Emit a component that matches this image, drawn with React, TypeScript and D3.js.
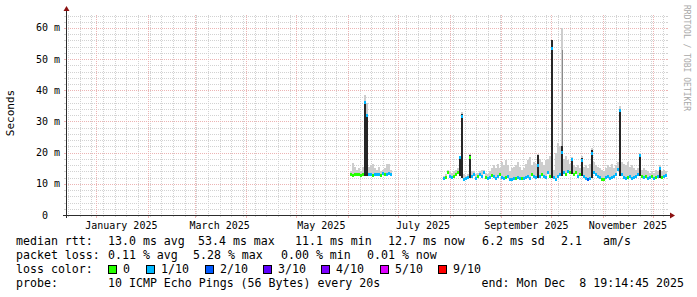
import React from 'react';
import * as d3 from 'd3';

// ---------- data ----------
const START = new Date(2024, 11, 13, 19, 14, 45);
const END = new Date(2025, 11, 8, 19, 14, 45);
const STEP_DAYS = 1.2; // consolidation step of the 360-day view (per sample)
const Y_MAX = 64.17; // ms

const seg1Start = new Date(2025, 5, 2, 4, 48);
const seg1Median = [13.0, 12.8, 13.0, 12.9, 13.1, 12.8, 13.0, 36.0, 32.0, 12.9, 13.0, 12.8, 13.1, 12.9, 13.0, 12.8, 13.2, 13.0, 12.9, 13.4, 13.1];
const seg1Max = [14.0, 16.7, 15.5, 14.5, 15.0, 14.0, 15.5, 38.6, 36.0, 15.5, 16.0, 16.3, 15.0, 14.5, 15.5, 14.0, 14.5, 15.0, 16.5, 16.3, 14.5];
const seg1Loss = [0, 0, 0, 0, 0, 0, 0, 1, 1, 1, 1, 0, 1, 1, 1, 0, 1, 0, 1, 1, 1];
// [sample index, dark smoke low, dark smoke high, mid smoke high]
const seg1Spikes = [[7, 12.5, 36.6, 0], [8, 12.5, 32.0, 0]];

const seg2Start = new Date(2025, 6, 28, 0, 0);
const seg2Median = [
  11.8, 12.0, 13.5, 12.5, 12.0, 12.4, 13.0, 13.5, 18.3, 31.6,
  11.5, 11.6, 12.0, 18.5, 12.5, 13.0, 11.8, 12.2, 13.0, 12.5,
  13.5, 12.0, 11.8, 12.0, 12.8, 12.3, 11.8, 12.5, 13.0, 12.0,
  11.6, 12.0, 12.5, 11.5, 11.5, 11.6, 11.8, 12.0, 11.6, 11.8,
  11.6, 12.0, 12.5, 11.8, 13.0, 12.2, 12.0, 16.0, 12.5, 13.0,
  12.5, 12.0, 13.5, 12.5, 53.4, 12.0, 11.5, 12.5, 13.0, 20.0,
  13.5, 13.0, 14.0, 13.5, 17.7, 13.0, 13.5, 12.5, 13.0, 17.5,
  12.5, 11.8, 11.5, 11.8, 19.7, 13.5, 13.0, 12.5, 12.0, 11.5,
  11.5, 12.0, 12.5, 11.8, 12.0, 12.5, 13.0, 14.5, 33.5, 13.0,
  12.0, 11.8, 12.0, 12.5, 11.8, 12.0, 12.5, 13.0, 19.0, 12.5,
  12.0, 12.5, 11.8, 12.0, 12.5, 11.8, 12.0, 12.5, 14.8, 12.0,
  12.5, 12.7,
];
const seg2Max = [
  12.5, 13.0, 14.5, 14.0, 13.5, 14.0, 14.5, 15.0, 19.0, 33.0,
  13.0, 12.5, 13.0, 19.5, 14.0, 14.0, 13.0, 13.5, 14.0, 14.5,
  14.5, 13.5, 13.0, 14.0, 15.0, 16.0, 15.0, 16.5, 15.0, 17.0,
  16.0, 17.5, 16.0, 14.0, 15.0, 15.5, 16.0, 17.0, 15.5, 14.5,
  15.0, 16.5, 17.5, 18.5, 16.0, 17.0, 16.5, 19.5, 18.0, 17.0,
  16.0, 17.5, 18.0, 19.0, 56.3, 14.5, 20.0, 23.0, 22.0, 60.0,
  18.0, 18.8, 17.5, 16.5, 18.5, 16.0, 15.5, 16.0, 15.0, 19.0,
  15.5, 16.0, 15.0, 16.5, 21.5, 17.0, 16.0, 15.5, 15.0, 14.5,
  14.0, 15.0, 16.0, 15.5, 16.5, 15.0, 16.0, 17.0, 35.0, 17.0,
  16.5, 16.0, 17.0, 15.5, 16.0, 15.0, 14.5, 15.0, 20.0, 14.5,
  15.0, 14.5, 14.0, 13.5, 14.0, 13.5, 14.5, 14.0, 16.0, 14.0,
  14.5, 14.0,
];
const seg2Loss = [
  1, 0, 0, 1, 1, 0, 0, 0, 1, 1,
  1, 1, 1, 0, 1, 1, 1, 0, 1, 1,
  1, 0, 1, 1, 0, 1, 1, 1, 0, 1,
  1, 0, 1, 1, 1, 1, 0, 1, 1, 0,
  1, 1, 1, 1, 0, 1, 1, 1, 1, 0,
  1, 1, 1, 0, 1, 1, 1, 1, 1, 1,
  1, 0, 1, 0, 1, 0, 0, 1, 0, 1,
  1, 1, 2, 1, 1, 1, 1, 1, 1, 0,
  0, 1, 1, 1, 1, 1, 1, 1, 1, 1,
  1, 1, 0, 1, 1, 1, 1, 1, 1, 0,
  1, 0, 1, 1, 0, 1, 0, 1, 1, 0,
  1, 1,
];
const seg2Spikes = [
  [8, 12.5, 18.3, 0], [9, 12.0, 32.5, 0], [13, 12.0, 19.3, 0], [47, 12.0, 19.3, 0],
  [54, 12.0, 56.0, 0], [59, 12.5, 22.0, 53.0], [64, 13.0, 17.7, 0], [69, 12.5, 18.4, 0],
  [74, 12.0, 21.0, 0], [88, 12.5, 34.0, 0], [98, 12.5, 19.3, 0], [108, 12.0, 15.5, 0],
];

const lossColors = ['#26ff00', '#00b8ff', '#0059ff', '#5e00ff', '#7e00ff', '#dd00ff', '#ff0000'];
const lossLabels = ['0', '1/10', '2/10', '3/10', '4/10', '5/10', '9/10'];

const yTicks = [0, 10, 20, 30, 40, 50, 60];
const xLabelEvery = 2; // months

const legendRtt = [
  ['13.0 ms avg', 108], ['53.4 ms max', 198], ['11.1 ms min', 295], ['12.7 ms now', 388],
  ['6.2 ms sd', 482], ['2.1', 561], ['am/s', 603],
];
const legendLoss = [['0.11 % avg', 108], ['5.28 % max', 193], ['0.00 % min', 281], ['0.01 % now', 367]];
const legendColorX = [108, 146, 205, 263, 321, 380, 438];
const probeText = '10 ICMP Echo Pings (56 Bytes) every 20s';
const endText = 'end: Mon Dec  8 19:14:45 2025';

// ---------- chart ----------
const W = 697;
const H = 297;
const X0 = 66, X1 = 666, Y0 = 215, Y1 = 15;
const MONO = '"DejaVu Sans Mono", monospace';

type Seg = { start: Date; med: number[]; max: number[]; loss: number[]; spikes: number[][] };
const segments: Seg[] = [
  { start: seg1Start, med: seg1Median, max: seg1Max, loss: seg1Loss, spikes: seg1Spikes },
  { start: seg2Start, med: seg2Median, max: seg2Max, loss: seg2Loss, spikes: seg2Spikes },
];

export default function App() {
  const x = d3.scaleTime().domain([START, END]).range([X0, X1]);
  const y = d3.scaleLinear().domain([0, Y_MAX]).range([Y0, Y1]);
  const tAt = (s: Seg, i: number) => d3.timeHour.offset(s.start, Math.round(i * STEP_DAYS * 24));

  const minorY = d3.range(2, Y_MAX, 2).filter((v) => v % 10 !== 0);
  const majorY = yTicks.filter((v) => v > 0);
  const weeks = d3.timeWeek.range(START, END);
  const months = d3.timeMonth.range(START, END);
  const labelMonths = months.filter((m) => m.getMonth() % xLabelEvery === 0);

  const px = (v: number) => Math.round(v) + 0.5;

  const smoke: JSX.Element[] = [];
  const bands: JSX.Element[] = [];
  segments.forEach((s, si) => {
    s.med.forEach((m, i) => {
      const xa = x(tAt(s, i));
      const xb = x(tAt(s, i + 1));
      const w = xb - xa;
      smoke.push(
        <rect key={`l${si}-${i}`} x={xa} y={y(s.max[i])} width={w} height={y(m) - y(s.max[i])} fill="#cdcdcd" />
      );
      const sp = s.spikes.find((p) => p[0] === i);
      if (sp) {
        if (sp[3] > 0) {
          smoke.push(
            <rect key={`q${si}-${i}`} x={xa + w / 2} y={y(sp[3])} width={w / 2} height={y(sp[2]) - y(sp[3])} fill="#8a8a8a" />
          );
        }
        smoke.push(
          <rect key={`d${si}-${i}`} x={xa} y={y(sp[2])} width={w} height={y(sp[1]) - y(sp[2])} fill="#262626" />
        );
      }
      bands.push(
        <rect key={`b${si}-${i}`} x={xa} y={y(m) - 1.5} width={w} height={3} fill={lossColors[s.loss[i]]} />
      );
    });
  });

  return (
    <svg width={W} height={H} style={{ position: 'absolute', left: 0, top: 0, background: '#fff' }}>
      <rect x={0} y={0} width={W} height={H} fill="#ffffff" />
      {/* minor grid */}
      <g stroke="#d2d2d2" strokeWidth={1} strokeDasharray="1,1">
        {minorY.map((v) => (
          <line key={`my${v}`} x1={X0} x2={X1} y1={px(y(v))} y2={px(y(v))} />
        ))}
        {weeks.map((d, i) => (
          <line key={`mx${i}`} x1={px(x(d))} x2={px(x(d))} y1={Y1} y2={Y0} />
        ))}
      </g>
      <g stroke="#d2d2d2" strokeWidth={1}>
        {minorY.map((v) => (
          <g key={`tmy${v}`}>
            <line x1={X0 - 2} x2={X0} y1={px(y(v))} y2={px(y(v))} />
            <line x1={X1} x2={X1 + 2} y1={px(y(v))} y2={px(y(v))} />
          </g>
        ))}
        {weeks.map((d, i) => (
          <line key={`tmx${i}`} x1={px(x(d))} x2={px(x(d))} y1={Y0} y2={Y0 + 2} />
        ))}
      </g>
      {/* major grid */}
      <g stroke="#ecb4b4" strokeWidth={1} strokeDasharray="1,1">
        {majorY.map((v) => (
          <line key={`My${v}`} x1={X0} x2={X1} y1={px(y(v))} y2={px(y(v))} />
        ))}
        {months.map((d, i) => (
          <line key={`Mx${i}`} x1={px(x(d))} x2={px(x(d))} y1={Y1} y2={Y0} />
        ))}
      </g>
      <g stroke="#ecb4b4" strokeWidth={1}>
        {majorY.map((v) => (
          <g key={`tMy${v}`}>
            <line x1={X0 - 2} x2={X0} y1={px(y(v))} y2={px(y(v))} />
            <line x1={X1} x2={X1 + 2} y1={px(y(v))} y2={px(y(v))} />
          </g>
        ))}
        {months.map((d, i) => (
          <line key={`tMx${i}`} x1={px(x(d))} x2={px(x(d))} y1={Y0} y2={Y0 + 3} />
        ))}
      </g>

      {/* data */}
      <g shapeRendering="crispEdges">{smoke}</g>
      <g shapeRendering="crispEdges">{bands}</g>

      {/* axes */}
      <g stroke="#2c2c2c" strokeWidth={1}>
        <line x1={X0 - 3} x2={X1 + 4} y1={Y0 + 0.5} y2={Y0 + 0.5} />
        <line x1={X0 + 0.5} x2={X0 + 0.5} y1={Y0 + 3} y2={Y1 - 4} />
      </g>
      <path d={`M${X0 + 0.5 - 3},${Y1 - 4} L${X0 + 0.5 + 3},${Y1 - 4} L${X0 + 0.5},${Y1 - 9} Z`} fill="#8b1010" />
      <path d={`M${X1 + 4},${Y0 + 0.5 - 3} L${X1 + 4},${Y0 + 0.5 + 3} L${X1 + 9},${Y0 + 0.5} Z`} fill="#8b1010" />

      {/* y labels */}
      <g fontFamily={MONO} fontSize={10} fill="#000">
        {yTicks.map((v) => (
          <text key={`yl${v}`} x={v === 0 ? 48 : 60} y={y(v)} dy="0.35em" textAnchor="end">
            {v === 0 ? '0' : `${v} m`}
          </text>
        ))}
        {labelMonths.map((d, i) => (
          <text key={`xl${i}`} x={x(d3.timeDay.offset(d, 15))} y={229} textAnchor="middle">
            {d3.timeFormat('%B %Y')(d)}
          </text>
        ))}
      </g>

      <text
        transform={`translate(14, 113) rotate(-90)`}
        fontFamily={MONO}
        fontSize={11}
        textAnchor="middle"
        fill="#000"
      >
        Seconds
      </text>
      <text
        transform={`translate(684, 5) rotate(90)`}
        fontFamily={MONO}
        fontSize={8}
        fill="#a8a8a8"
      >
        RRDTOOL / TOBI OETIKER
      </text>

      {/* legend */}
      <g fontFamily={MONO} fontSize={11.6} fill="#000">
        <text x={16} y={245}>median rtt:</text>
        {legendRtt.map(([t, lx]) => (
          <text key={`r${t}`} x={lx as number} y={245}>{t}</text>
        ))}
        <text x={16} y={259}>packet loss:</text>
        {legendLoss.map(([t, lx]) => (
          <text key={`p${t}`} x={lx as number} y={259}>{t}</text>
        ))}
        <text x={16} y={273}>loss color:</text>
        {lossLabels.map((t, i) => (
          <g key={`lc${i}`}>
            <rect x={legendColorX[i] + 0.5} y={265.5} width={8} height={8} fill={lossColors[i]} stroke="#000" strokeWidth={1} />
            <text x={legendColorX[i] + 15} y={273}>{t}</text>
          </g>
        ))}
        <text x={16} y={287}>probe:</text>
        <text x={108} y={287}>{probeText}</text>
        <text x={684} y={287} textAnchor="end" style={{ whiteSpace: 'pre' }}>{endText}</text>
      </g>
    </svg>
  );
}
